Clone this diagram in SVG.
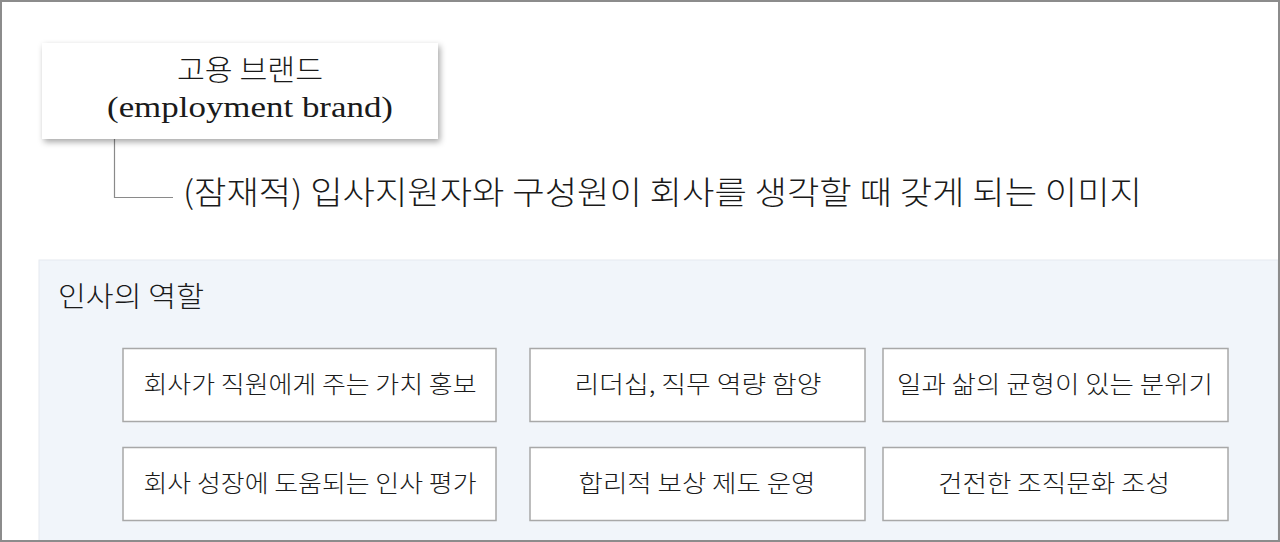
<svg xmlns="http://www.w3.org/2000/svg" width="1280" height="542" viewBox="0 0 1280 542">
<style>
.serif{font-family:"Liberation Serif","Noto Sans CJK KR",serif;fill:#1a1a1a;font-weight:400}
.ko{font-family:"Noto Sans CJK KR","Noto Sans",sans-serif;fill:#1a1a1a;font-weight:300}
.sans{font-family:"Noto Sans CJK KR","Noto Sans",sans-serif;fill:#1a1a1a;font-weight:300}
.role rect{fill:#ffffff;stroke:#a8a8a8;stroke-width:1.5}
.role text{font-family:"Noto Sans CJK KR","Noto Sans",sans-serif;font-size:24px;font-weight:300;fill:#1a1a1a;text-anchor:middle}
.conn{fill:none;stroke:#8a8a8a;stroke-width:1.2}
</style>
<defs>
<filter id="shadow" x="-10%" y="-20%" width="125%" height="150%">
<feDropShadow dx="2" dy="3" stdDeviation="3" flood-color="#000" flood-opacity="0.35"/>
</filter>
</defs>
<rect x="0" y="0" width="1280" height="542" fill="#ffffff"/>
<rect id="panel" x="39" y="260" width="1239" height="281" fill="#f1f5fa" stroke="#e6eaf0" stroke-width="1"/>
<g id="connectors">
<path class="conn" d="M114.5 139 V197.5 H173"/>
</g>
<g id="brand">
<rect x="42" y="43" width="396" height="96" fill="#ffffff" filter="url(#shadow)"/>
<text class="ko" x="250" y="81" font-size="29" text-anchor="middle" textLength="146" lengthAdjust="spacingAndGlyphs">고용 브랜드</text>
<text class="serif" x="250" y="117" font-size="30" text-anchor="middle" textLength="286" lengthAdjust="spacingAndGlyphs">(employment brand)</text>
</g>
<g id="definition">
<text class="sans" x="183" y="204" font-size="32" textLength="959" lengthAdjust="spacingAndGlyphs">(잠재적) 입사지원자와 구성원이 회사를 생각할 때 갖게 되는 이미지</text>
</g>
<g id="panel-title">
<text class="sans" x="58" y="307" font-size="28" textLength="146" lengthAdjust="spacingAndGlyphs">인사의 역할</text>
</g>
<g id="role1" class="role"><rect x="123" y="348.5" width="373" height="73"/><text x="310" y="393" textLength="333" lengthAdjust="spacingAndGlyphs">회사가 직원에게 주는 가치 홍보</text></g>
<g id="role2" class="role"><rect x="530" y="348.5" width="335" height="73"/><text x="698" y="393" textLength="247" lengthAdjust="spacingAndGlyphs">리더십, 직무 역량 함양</text></g>
<g id="role3" class="role"><rect x="883" y="348.5" width="345" height="73"/><text x="1055" y="393" textLength="316" lengthAdjust="spacingAndGlyphs">일과 삶의 균형이 있는 분위기</text></g>
<g id="role4" class="role"><rect x="123" y="447.5" width="373" height="73"/><text x="310" y="492" textLength="333" lengthAdjust="spacingAndGlyphs">회사 성장에 도움되는 인사 평가</text></g>
<g id="role5" class="role"><rect x="530" y="447.5" width="335" height="73"/><text x="697" y="492" textLength="237" lengthAdjust="spacingAndGlyphs">합리적 보상 제도 운영</text></g>
<g id="role6" class="role"><rect x="883" y="447.5" width="345" height="73"/><text x="1054" y="492" textLength="232" lengthAdjust="spacingAndGlyphs">건전한 조직문화 조성</text></g>
<rect x="1" y="1" width="1278" height="540" fill="none" stroke="#8c8c8c" stroke-width="2"/>
</svg>
